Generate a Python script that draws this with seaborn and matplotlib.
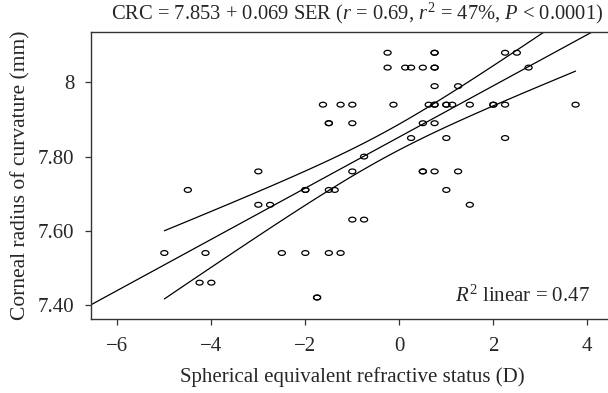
import numpy as np
import pandas as pd
import matplotlib
matplotlib.use("Agg")
import matplotlib.pyplot as plt
from matplotlib.path import Path
from matplotlib.transforms import Affine2D
import seaborn as sns

# CRC rows (mm) and the SER values (D) in each row
rows = {
    8.08: [-0.25, 0.75, 0.75, 2.25, 2.5],
    8.04: [-0.25, 0.125, 0.25, 0.5, 0.75, 0.75, 2.75],
    7.99: [0.75, 1.25],
    7.94: [-1.625, -1.25, -1.0, -0.125, 0.625, 0.75, 0.75, 1.0, 1.0, 1.125, 1.5, 2.0, 2.0, 2.25, 3.75],
    7.89: [-1.5, -1.5, -1.0, 0.5, 0.75],
    7.85: [0.25, 1.0, 2.25],
    7.80: [-0.75],
    7.76: [-3.0, -1.0, 0.5, 0.5, 0.75, 1.25],
    7.71: [-4.5, -2.0, -2.0, -1.5, -1.375, 1.0],
    7.67: [-3.0, -2.75, 1.5],
    7.63: [-1.0, -0.75],
    7.54: [-5.0, -4.125, -2.5, -2.0, -1.5, -1.25],
    7.46: [-4.25, -4.0],
    7.42: [-1.75, -1.75],
}
ser = [x for y, xs in rows.items() for x in xs]
crc = [y for y, xs in rows.items() for x in xs]
df = pd.DataFrame({"SER": ser, "CRC": crc})

# reported fit
intercept = 7.853
slope = 0.069

xticks = [-6, -4, -2, 0, 2, 4]
xtick_labels = ["\u22126", "\u22124", "\u22122", "0", "2", "4"]
yticks = [7.40, 7.60, 7.80, 8.0]
ytick_labels = ["7.40", "7.60", "7.80", "8"]

sns.set_style("ticks")
plt.rcParams["font.family"] = ["Liberation Serif", "DejaVu Serif"]
plt.rcParams["mathtext.fontset"] = "custom"
plt.rcParams["mathtext.rm"] = "Liberation Serif"
plt.rcParams["mathtext.it"] = "Liberation Serif:italic"

fig = plt.figure(figsize=(6.08, 3.93), dpi=100)
ax = fig.add_axes([0.1497, 0.1883, 0.8503, 0.7303])

# slightly flattened open circle, like the original markers
ellipse = Path.unit_circle().transformed(Affine2D().scale(1.0, 0.68))
sns.scatterplot(data=df, x="SER", y="CRC", marker=ellipse, s=26,
                facecolor="none", edgecolor="black", linewidth=0.9, ax=ax)

# fit line across the whole axis + 95% CI of the mean over the data range
n = len(df)
resid = df["CRC"] - (intercept + slope * df["SER"])
s_err = np.sqrt((resid ** 2).sum() / (n - 2))
xbar = df["SER"].mean()
sxx = ((df["SER"] - xbar) ** 2).sum()

xfit = np.linspace(-6.56, 4.44, 50)
ax.plot(xfit, intercept + slope * xfit, color="black", lw=0.9)

xci = np.linspace(df["SER"].min(), df["SER"].max(), 100)
half = 2.0 * s_err * np.sqrt(1 / n + (xci - xbar) ** 2 / sxx)
yci = intercept + slope * xci
ax.plot(xci, yci + half, color="black", lw=0.9)
ax.plot(xci, yci - half, color="black", lw=0.9)

ax.set_xlim(-6.56, 4.44)
ax.set_ylim(7.362, 8.136)
ax.set_xticks(xticks)
ax.set_xticklabels(xtick_labels)
ax.set_yticks(yticks)
ax.set_yticklabels(ytick_labels)
ax.tick_params(labelsize=15, length=4, width=0.9, color="#333333")
ax.tick_params(axis="x", pad=9)
ax.tick_params(axis="y", pad=8)
ax.spines["right"].set_visible(False)
for sp in ["left", "bottom", "top"]:
    ax.spines[sp].set_linewidth(1.0)
    ax.spines[sp].set_color("#333333")

ax.set_xlabel("Spherical equivalent refractive status (D)", fontsize=15)
ax.set_ylabel("Corneal radius of curvature (mm)", fontsize=15.5)
ax.xaxis.set_label_coords(0.505, -0.168)
ax.yaxis.set_label_coords(-0.118, 0.5)

fig.text(0.992, 0.952,
         r"CRC = 7.853 + 0.069 SER ($r$ = 0.69, $r^2$ = 47%, $P$ < 0.0001)",
         ha="right", va="baseline", fontsize=14.8)
ax.text(0.965, 0.06, r"$R^2$ linear = 0.47", transform=ax.transAxes,
        ha="right", va="baseline", fontsize=15)

fig.savefig("out.png", dpi=100)
